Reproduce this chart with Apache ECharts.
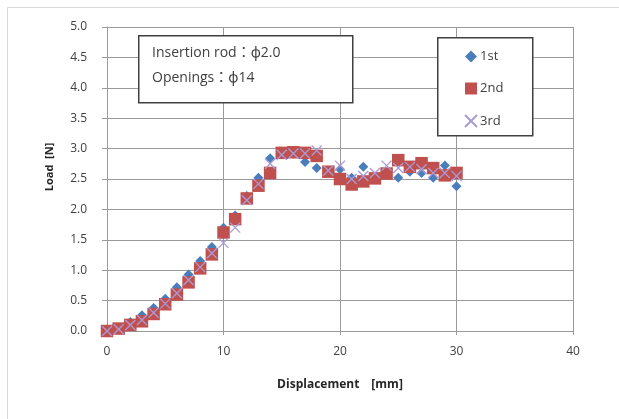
<!DOCTYPE html>
<html><head><meta charset="utf-8">
<script src="https://cdn.jsdelivr.net/npm/echarts@6/dist/echarts.min.js"></script>
<style>html,body{margin:0;padding:0;background:#fff}#c{width:619px;height:419px}</style>
</head><body><div id="c"></div>
<script>
var displacement = [0,1,2,3,4,5,6,7,8,9,10,11,12,13,14,15,16,17,18,19,20,21,22,23,24,25,26,27,28,29,30];
var load1st = [0,0.05,0.15,0.26,0.38,0.53,0.72,0.93,1.15,1.38,1.7,1.9,2.22,2.52,2.84,2.95,2.92,2.78,2.68,2.62,2.66,2.52,2.7,2.5,2.56,2.52,2.62,2.6,2.52,2.72,2.38];
var load2nd = [0,0.04,0.1,0.16,0.28,0.44,0.6,0.8,1.03,1.26,1.62,1.84,2.18,2.39,2.6,2.93,2.94,2.93,2.88,2.62,2.5,2.41,2.46,2.51,2.59,2.81,2.7,2.76,2.68,2.56,2.6];
var load3rd = [0,0.03,0.1,0.18,0.3,0.45,0.62,0.84,1.05,1.28,1.45,1.7,2.15,2.42,2.75,2.9,2.92,2.92,2.97,2.64,2.72,2.5,2.55,2.6,2.72,2.68,2.7,2.66,2.6,2.6,2.55];
var seriesNames = ['1st','2nd','3rd'];
var xTicks = {min:0,max:40,interval:10};
var yTicks = {min:0,max:5,interval:0.5};
var note1 = 'Insertion rod：ϕ2.0';
var note2 = 'Openings：ϕ14';
var xTitle = 'Displacement\u3000[mm]';
var yTitle = 'Load  [N]';

function pairs(xs, ys){ return xs.map(function(x,i){return [x, ys[i]];}); }
var FONT = '"Open Sans","Noto Sans","Noto Sans CJK JP",sans-serif';
var chart = echarts.init(document.getElementById('c'), null, {renderer:'canvas'});
var xMark = 'path://M0,0L10,10M10,0L0,10';
chart.setOption({
  animation:false,
  backgroundColor:'#fff',
  grid:{left:107,right:46,top:27,bottom:88,containLabel:false},
  xAxis:{type:'value',min:xTicks.min,max:xTicks.max,interval:xTicks.interval,
    name:xTitle,nameLocation:'middle',nameGap:48,
    nameTextStyle:{fontFamily:FONT,fontSize:12,fontWeight:'bold',color:'#262626'},
    axisLine:{show:true,onZero:false,lineStyle:{color:'#9a9a9a',width:1}},
    axisTick:{show:true,length:4,lineStyle:{color:'#9a9a9a'}},
    axisLabel:{fontFamily:FONT,fontSize:12,color:'#404040',margin:15},
    splitLine:{show:true,lineStyle:{color:'#9a9a9a',width:1}}},
  yAxis:{type:'value',min:yTicks.min,max:yTicks.max,interval:yTicks.interval,
    name:yTitle,nameLocation:'middle',nameGap:52,nameRotate:90,
    nameTextStyle:{fontFamily:FONT,fontSize:11,fontWeight:'bold',color:'#262626',padding:[0,0,0,24]},
    axisLine:{show:true,lineStyle:{color:'#9a9a9a',width:1}},
    axisTick:{show:true,length:5,lineStyle:{color:'#9a9a9a'}},
    axisLabel:{fontFamily:FONT,fontSize:12,color:'#404040',margin:20,formatter:function(v){return v.toFixed(1);}},
    splitLine:{show:true,lineStyle:{color:'#9a9a9a',width:1}}},
  legend:{orient:'vertical',left:459,top:45,itemGap:19,itemWidth:12,itemHeight:12,z:30,
    textStyle:{fontFamily:FONT,fontSize:13,color:'#404040',padding:[0,0,0,-2]},
    data:seriesNames},
  graphic:[
    {type:'rect',left:5,top:5,shape:{width:700,height:500},style:{fill:'none',stroke:'#d9d9d9',lineWidth:1},silent:true,z:-10},
    {type:'rect',left:138,top:35,shape:{width:214,height:67},style:{fill:'#fff',stroke:'#404040',lineWidth:1.5},z:10},
    {type:'text',left:152,top:46,style:{text:note1,font:'14px '+FONT,fill:'#404040'},z:11},
    {type:'text',left:152,top:71,style:{text:note2,font:'14px '+FONT,fill:'#404040'},z:11},
    {type:'rect',left:437,top:37,shape:{width:95,height:98},style:{fill:'#fff',stroke:'#404040',lineWidth:1.5},z:1}
  ],
  series:[
    {name:seriesNames[0],type:'scatter',data:pairs(displacement,load1st),symbol:'diamond',symbolSize:10,
      itemStyle:{color:'#4a7ebb',opacity:1},z:2},
    {name:seriesNames[1],type:'scatter',data:pairs(displacement,load2nd),symbol:'rect',symbolSize:12.5,
      itemStyle:{color:'#c0504d',opacity:1},z:3},
    {name:seriesNames[2],type:'scatter',data:pairs(displacement,load3rd),symbol:xMark,symbolSize:10,
      itemStyle:{color:'#a99bd6',borderColor:'#a99bd6',borderWidth:1.3,opacity:1},z:4}
  ]
});
</script></body></html>
